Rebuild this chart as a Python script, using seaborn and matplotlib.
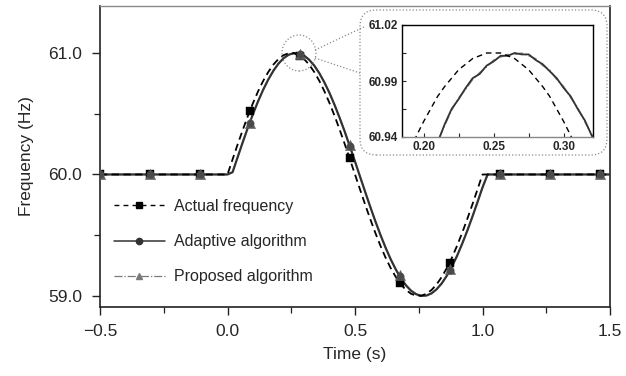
import matplotlib
matplotlib.use('Agg')
import matplotlib.pyplot as plt
from matplotlib.lines import Line2D
from matplotlib.patches import Ellipse, FancyBboxPatch
import seaborn as sns
import pandas as pd

# time axis of the traces (s)
time_s = [-0.5, 0.00, 0.02, 0.04, 0.06, 0.08, 0.10, 0.12, 0.14, 0.16, 0.18,
          0.20, 0.22, 0.24, 0.26, 0.28, 0.30, 0.32, 0.34, 0.36, 0.38,
          0.40, 0.42, 0.44, 0.46, 0.48, 0.50, 0.52, 0.54, 0.56, 0.58,
          0.60, 0.62, 0.64, 0.66, 0.68, 0.70, 0.72, 0.74, 0.76, 0.78,
          0.80, 0.82, 0.84, 0.86, 0.88, 0.90, 0.92, 0.94, 0.96, 0.98,
          1.00, 1.02, 1.04, 1.5]

actual_hz = [60.0, 60.000, 60.125, 60.249, 60.368, 60.482, 60.588, 60.685, 60.771, 60.844, 60.905,
             60.951, 60.982, 60.998, 60.998, 60.982, 60.951, 60.905, 60.844, 60.771, 60.685,
             60.588, 60.482, 60.368, 60.249, 60.125, 60.000, 59.875, 59.751, 59.632, 59.518,
             59.412, 59.315, 59.229, 59.156, 59.095, 59.049, 59.018, 59.002, 59.002, 59.018,
             59.049, 59.095, 59.156, 59.229, 59.315, 59.412, 59.518, 59.632, 59.751, 59.875,
             60.000, 60.0, 60.0, 60.0]

adaptive_hz = [60.0, 60.000, 60.019, 60.144, 60.267, 60.386, 60.498, 60.603, 60.698, 60.782, 60.854,
               60.913, 60.957, 60.986, 60.999, 60.997, 60.979, 60.945, 60.897, 60.834, 60.758,
               60.671, 60.572, 60.465, 60.351, 60.230, 60.107, 59.981, 59.856, 59.733, 59.614,
               59.502, 59.397, 59.302, 59.218, 59.146, 59.087, 59.043, 59.014, 59.001, 59.003,
               59.021, 59.055, 59.103, 59.166, 59.242, 59.329, 59.428, 59.535, 59.650, 59.770,
               59.893, 60.0, 60.0, 60.0]

proposed_hz = [60.0, 60.000, 60.020, 60.143, 60.268, 60.385, 60.499, 60.602, 60.699, 60.781, 60.855,
               60.912, 60.958, 60.985, 61.000, 60.996, 60.980, 60.944, 60.898, 60.833, 60.759,
               60.670, 60.573, 60.464, 60.352, 60.229, 60.108, 59.980, 59.857, 59.732, 59.615,
               59.501, 59.398, 59.301, 59.219, 59.145, 59.088, 59.042, 59.015, 59.000, 59.004,
               59.020, 59.056, 59.102, 59.167, 59.241, 59.330, 59.427, 59.536, 59.649, 59.771,
               59.892, 60.0, 60.0, 60.0]

# marker positions
marker_time_s = [-0.5, -0.304, -0.108, 0.088, 0.284, 0.48, 0.676, 0.872, 1.068, 1.264, 1.46]
actual_marker_hz = [60.0, 60.0, 60.0, 60.52, 60.977, 60.135, 59.11, 59.27, 60.0, 60.0, 60.0]
adaptive_marker_hz = [60.0, 60.0, 60.0, 60.42, 60.994, 60.235, 59.165, 59.215, 60.0, 60.0, 60.0]
proposed_marker_hz = [60.0, 60.0, 60.0, 60.42, 60.995, 60.24, 59.17, 59.22, 60.0, 60.0, 60.0]

# zoomed peak
zoom_time_s = [0.185, 0.190, 0.195, 0.200, 0.205, 0.210, 0.215, 0.220, 0.225, 0.230,
               0.235, 0.240, 0.245, 0.250, 0.255, 0.260, 0.265, 0.270, 0.275, 0.280,
               0.285, 0.290, 0.295, 0.300, 0.305, 0.310, 0.315, 0.320, 0.325]
zoom_actual_hz = [60.918, 60.930, 60.941, 60.951, 60.960, 60.969, 60.976, 60.982, 60.988, 60.992,
                  60.996, 60.998, 61.000, 61.000, 61.000, 60.998, 60.996, 60.992, 60.988, 60.982,
                  60.976, 60.969, 60.960, 60.951, 60.941, 60.930, 60.918, 60.905, 60.891]
zoom_adaptive_hz = [60.872, 60.887, 60.901, 60.914, 60.927, 60.936, 60.949, 60.960, 60.967, 60.975,
                    60.982, 60.985, 60.991, 60.994, 60.998, 60.998, 61.000, 60.999, 60.999, 60.995,
                    60.992, 60.987, 60.982, 60.975, 60.969, 60.960, 60.952, 60.941, 60.931]
zoom_proposed_hz = [60.871, 60.886, 60.902, 60.915, 60.926, 60.937, 60.948, 60.959, 60.968, 60.974,
                    60.981, 60.986, 60.990, 60.995, 60.997, 60.999, 60.999, 61.000, 60.998, 60.996,
                    60.991, 60.988, 60.981, 60.976, 60.968, 60.961, 60.951, 60.942, 60.930]

series_names = ['Actual frequency', 'Adaptive algorithm', 'Proposed algorithm']

sns.set_style('ticks')
plt.rcParams['font.family'] = ['Liberation Sans', 'DejaVu Sans']

W, H = 626, 376
fig = plt.figure(figsize=(W / 100, H / 100), dpi=100)
ax = fig.add_axes([100 / W, 1 - 307 / H, 510 / W, 301 / H])

dash_actual = (0, (4, 2.5))
line_df = pd.DataFrame({'time': time_s, 'actual': actual_hz,
                        'adaptive': adaptive_hz, 'proposed': proposed_hz})

sns.lineplot(data=line_df, x='time', y='proposed', ax=ax, color='#7a7a7a',
             linestyle='-.', linewidth=1.0, sort=False, zorder=2)
sns.lineplot(data=line_df, x='time', y='adaptive', ax=ax, color='#333333',
             linestyle='-', linewidth=1.6, sort=False, zorder=3)
sns.lineplot(data=line_df, x='time', y='actual', ax=ax, color='black',
             linestyle=dash_actual, linewidth=1.3, sort=False, zorder=3)

sns.scatterplot(x=marker_time_s, y=actual_marker_hz, ax=ax, marker='s', s=30,
                color='black', edgecolor='black', linewidth=0.3, zorder=4)
sns.scatterplot(x=marker_time_s, y=proposed_marker_hz, ax=ax, marker='^', s=55,
                color='#5e5e5e', edgecolor='#5e5e5e', linewidth=0.3, zorder=5)
sns.scatterplot(x=marker_time_s, y=adaptive_marker_hz, ax=ax, marker='o', s=28,
                color='#4a4a4a', edgecolor='#4a4a4a', linewidth=0.3, zorder=6)

ax.set_xlim(-0.5, 1.5)
ax.set_ylim(58.909, 61.387)
ax.set_xticks([-0.5, 0.0, 0.5, 1.0, 1.5])
ax.set_xticklabels(['\u22120.5', '0.0', '0.5', '1.0', '1.5'])
ax.set_xticks([-0.25, 0.25, 0.75, 1.25], minor=True)
ax.set_yticks([59.0, 60.0, 61.0])
ax.set_yticklabels(['59.0', '60.0', '61.0'])
ax.set_yticks([59.5, 60.5], minor=True)
ax.tick_params(which='major', direction='out', length=6, width=1.0,
               labelsize=12.5, pad=7, color='#222222')
ax.tick_params(which='minor', direction='out', length=4, width=0.9, color='#222222')
ax.tick_params(axis='x', which='major', pad=6)
ax.set_xlabel('Time (s)', fontsize=12.5, labelpad=6)
ax.set_ylabel('Frequency (Hz)', fontsize=12.5, labelpad=10)

for side in ['left', 'bottom', 'right']:
    ax.spines[side].set_color('#222222')
    ax.spines[side].set_linewidth(1.2)
ax.spines['top'].set_color('#8a8a8a')
ax.spines['top'].set_linewidth(1.0)

handles = [
    Line2D([], [], color='black', linestyle=(0, (3.5, 3)), linewidth=1.0,
           marker='s', markersize=4.5),
    Line2D([], [], color='#333333', linestyle='-', linewidth=1.1,
           marker='o', markersize=4.5),
    Line2D([], [], color='#7a7a7a', linestyle='-.', linewidth=0.9,
           marker='^', markersize=5),
]
ax.legend(handles, series_names, loc='upper left', bbox_to_anchor=(0.014, 0.38),
          frameon=False, fontsize=11.5, handlelength=3.2, handletextpad=0.6,
          labelspacing=1.26, borderaxespad=0)

# magnifier circle and connectors
ax.add_patch(Ellipse((0.2804, 61.0), 34 / 255, 36 / 121.5, fill=False,
                     edgecolor='#8a8a8a', linestyle=':', linewidth=0.9, zorder=7))
ax.plot([0.343, 0.535], [61.025, 61.214], color='#8a8a8a', linestyle=':',
        linewidth=0.9, clip_on=False, zorder=7)
ax.plot([0.343, 0.520], [60.959, 60.835], color='#8a8a8a', linestyle=':',
        linewidth=0.9, clip_on=False, zorder=7)

box = FancyBboxPatch((360 / W, 1 - 155 / H), 247 / W, 145 / H,
                     boxstyle='round,pad=0,rounding_size=0.026',
                     mutation_aspect=W / H, transform=fig.transFigure,
                     fill=False, edgecolor='#8a8a8a', linestyle=':', linewidth=0.9)
fig.add_artist(box)

# inset
ax_in = fig.add_axes([402 / W, 1 - 137 / H, 191 / W, 112 / H])
zoom_df = pd.DataFrame({'time': zoom_time_s, 'actual': zoom_actual_hz,
                        'adaptive': zoom_adaptive_hz, 'proposed': zoom_proposed_hz})
sns.lineplot(data=zoom_df, x='time', y='proposed', ax=ax_in, color='#8a8a8a',
             linestyle='-.', linewidth=1.0, sort=False)
sns.lineplot(data=zoom_df, x='time', y='adaptive', ax=ax_in, color='#333333',
             linestyle='-', linewidth=1.3, sort=False)
sns.lineplot(data=zoom_df, x='time', y='actual', ax=ax_in, color='black',
             linestyle=(0, (4, 3)), linewidth=1.0, sort=False)
ax_in.set_xlim(0.1846, 0.3209)
ax_in.set_ylim(60.94, 61.02)
ax_in.set_xticks([0.20, 0.25, 0.30])
ax_in.set_xticklabels(['0.20', '0.25', '0.30'])
ax_in.set_xticks([0.225, 0.275], minor=True)
ax_in.set_yticks([60.94, 60.96, 60.98, 61.00, 61.02])
ax_in.set_yticklabels(['60.94', '', '60.99', '', '61.02'])
ax_in.tick_params(which='both', direction='in', length=3, width=0.8,
                  labelsize=8.5, pad=3)
for lab in ax_in.get_xticklabels() + ax_in.get_yticklabels():
    lab.set_fontweight('bold')
ax_in.set_xlabel('')
ax_in.set_ylabel('')
for side in ['left', 'top', 'right']:
    ax_in.spines[side].set_color('black')
    ax_in.spines[side].set_linewidth(1.0)
ax_in.spines['bottom'].set_color('#888888')
ax_in.spines['bottom'].set_linewidth(1.0)

fig.savefig('out.png', dpi=100)
